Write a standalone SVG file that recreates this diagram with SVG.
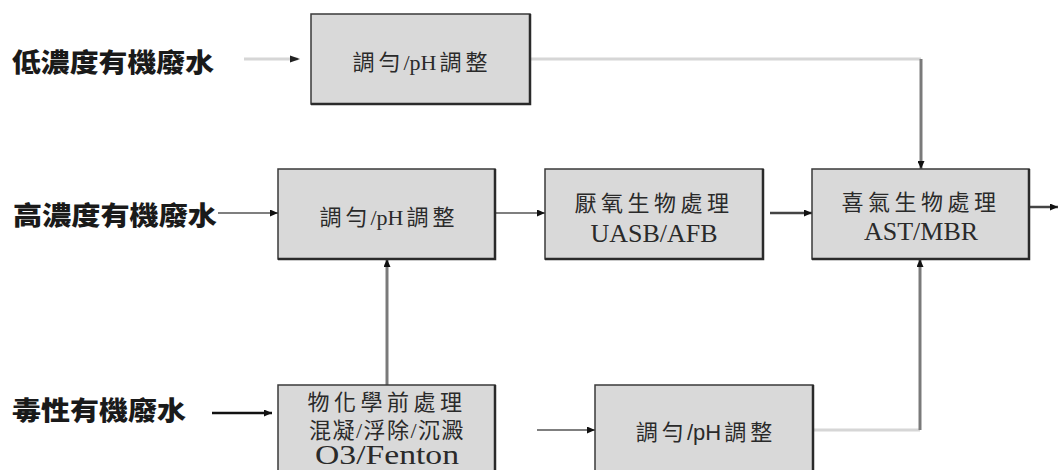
<svg xmlns="http://www.w3.org/2000/svg" width="1059" height="470" viewBox="0 0 1059 470">
<defs>
<style>
.box{fill:#d9d9d9;stroke:#3a3a3a;stroke-width:1.5}
.shadow{fill:none;stroke:#2a2a2a;stroke-width:2.5}
.lbl{font-family:"Noto Sans CJK TC","Noto Sans CJK SC",sans-serif;font-weight:900;font-size:26px;fill:#1a1a1a;dominant-baseline:central}
.t{font-family:"Liberation Serif","Noto Sans CJK TC",serif;font-size:22px;fill:#2a2a2a;text-anchor:middle;dominant-baseline:central}
.ts{font-family:"Liberation Sans","Noto Sans CJK TC",sans-serif;font-size:22px;fill:#2a2a2a;text-anchor:middle;dominant-baseline:central}
.big{font-size:26px}
.light{fill:none;stroke:#d6d6d6;stroke-width:3}
.mid{fill:none;stroke:#7f7f7f;stroke-width:2}
.dark{fill:none;stroke:#7a7a7a;stroke-width:3}
.black{fill:none;stroke:#111;stroke-width:2.5}
.dk{fill:none;stroke:#444;stroke-width:2.5}
</style>
<marker id="ah" viewBox="0 0 8 7" refX="8" refY="3.5" markerWidth="8" markerHeight="7" markerUnits="userSpaceOnUse" orient="auto">
<path d="M0,0 L8,3.5 L0,7 z" fill="#111"/>
</marker>
</defs>
<rect width="1059" height="470" fill="#ffffff"/>

<g id="labels">
<text id="lbl-low" class="lbl" x="12" y="60" textLength="202" lengthAdjust="spacingAndGlyphs">低濃度有機廢水</text>
<text id="lbl-high" class="lbl" x="13" y="213" textLength="204" lengthAdjust="spacingAndGlyphs">高濃度有機廢水</text>
<text id="lbl-toxic" class="lbl" x="12" y="408" textLength="174" lengthAdjust="spacingAndGlyphs">毒性有機廢水</text>
</g>

<g id="connectors">
<path class="light" d="M244,59 H298"/>
<path d="M290,55.5 L300,59 L290,62.5 z" fill="#222"/>
<path class="light" d="M530,59 H921"/>
<path class="dark" d="M921,59 V169" marker-end="url(#ah)"/>
<path class="mid" d="M218,213 H278" marker-end="url(#ah)"/>
<path class="mid" d="M495,213 H545" marker-end="url(#ah)"/>
<path class="dk" d="M770,213 H812" marker-end="url(#ah)"/>
<path class="dk" d="M1029,207 H1058" marker-end="url(#ah)"/>
<path class="dark" d="M387,385 V259" marker-end="url(#ah)"/>
<path class="black" d="M212,413 H272" marker-end="url(#ah)"/>
<path class="mid" d="M537,430 H595" marker-end="url(#ah)"/>
<path class="light" d="M813,430 H920"/>
<path class="dark" d="M920,430 V259" marker-end="url(#ah)"/>
</g>

<g id="n1">
<rect class="box" x="311" y="14" width="219" height="90"/>
<path class="shadow" d="M530,14 V104 H311"/>
<text class="t" x="420" y="62">調<tspan dx="4">勻</tspan><tspan dx="3">/pH</tspan><tspan dx="3">調</tspan><tspan dx="4">整</tspan></text>
</g>

<g id="n2">
<rect class="box" x="278" y="169" width="217" height="90"/>
<path class="shadow" d="M495,169 V259 H278"/>
<text class="t" x="387" y="217">調<tspan dx="4">勻</tspan><tspan dx="3">/pH</tspan><tspan dx="3">調</tspan><tspan dx="4">整</tspan></text>
</g>

<g id="n3">
<rect class="box" x="545" y="169" width="218" height="90"/>
<path class="shadow" d="M763,169 V259 H545"/>
<text class="t" x="654" y="203" letter-spacing="4.5">厭氧生物處理</text>
<text class="t big" x="654" y="233">UASB/AFB</text>
</g>

<g id="n4">
<rect class="box" x="812" y="169" width="217" height="90"/>
<path class="shadow" d="M1029,169 V259 H812"/>
<text class="t" x="921" y="202" letter-spacing="4.5">喜氣生物處理</text>
<text class="t big" x="921" y="231">AST/MBR</text>
</g>

<g id="n5">
<rect class="box" x="278" y="385" width="217" height="100"/>
<path class="shadow" d="M495,385 V485"/>
<text class="t" x="387" y="402" letter-spacing="4.5">物化學前處理</text>
<text class="t" x="387" y="430" letter-spacing="1.5">混凝/浮除/沉澱</text>
<text class="t" x="387" y="455" style="font-size:27px" textLength="144" lengthAdjust="spacingAndGlyphs">O3/Fenton</text>
</g>

<g id="n6">
<rect class="box" x="595" y="385" width="218" height="100"/>
<path class="shadow" d="M813,385 V485"/>
<text class="ts" x="704" y="432">調<tspan dx="4">勻</tspan><tspan dx="3">/pH</tspan><tspan dx="3">調</tspan><tspan dx="4">整</tspan></text>
</g>
</svg>
